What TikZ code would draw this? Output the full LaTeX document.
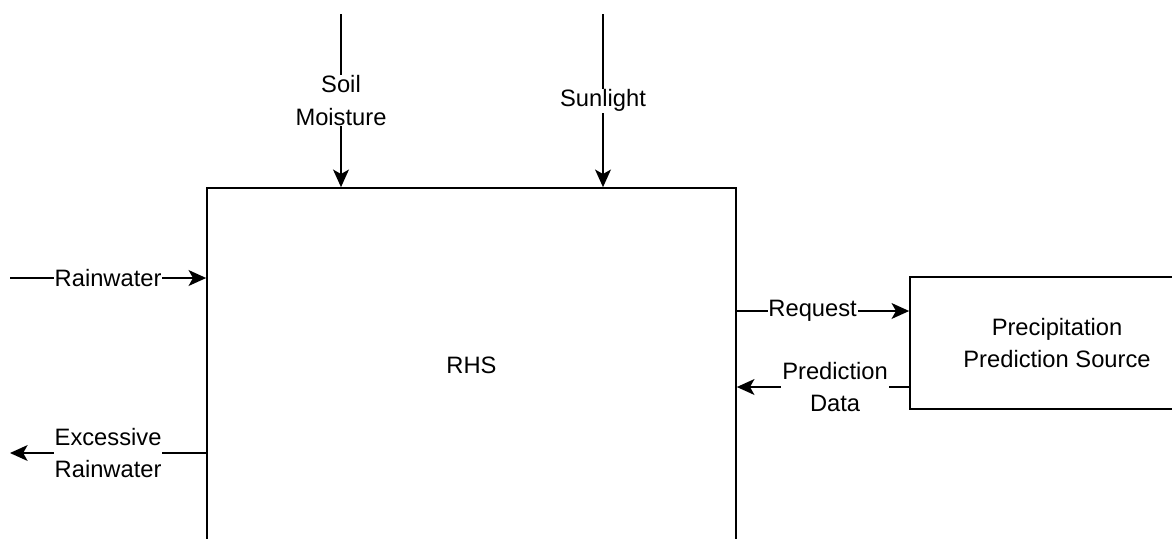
\documentclass[tikz,border=0pt]{standalone}
\usepackage{fontspec}
\setmainfont{Liberation Sans}
\usetikzlibrary{positioning}
\usetikzlibrary{arrows.meta}

\tikzset{
  block/.style={draw, line width=1pt, align=center, inner sep=0pt},
  flow/.style={line width=1pt, -{Stealth[length=10pt, width=9pt, inset=2.5pt]}},
  flowlabel/.style={fill=white, align=center, inner sep=0.5pt,
    font=\fontsize{13.5}{18.5}\selectfont}
}

\begin{document}
\begin{tikzpicture}[x=0.02cm, y=-0.02cm, font=\fontsize{13.5}{18.5}\selectfont]

\useasboundingbox (0,0) rectangle (1172,538);
\clip (0,0) rectangle (1172,538);

% boxes
\node[block, minimum width=10.58cm, minimum height=7.08cm] (rhs) at (471.5,365) {RHS};
\node[block, minimum width=5.88cm, minimum height=2.64cm] (pps) at (1057,343) {Precipitation\\Prediction Source};

% free ends
\coordinate (soil) at (341,14);
\coordinate (sun) at (603,14);
\coordinate (rain) at (10,278);
\coordinate (excess) at (10,453);
\coordinate (req) at (0,311);
\coordinate (pred) at (0,387);

% inputs from above
\draw[flow] (soil) -- node[flowlabel] {Soil\\Moisture} (soil |- rhs.north);
\draw[flow] (sun) -- node[flowlabel] {Sunlight} (sun |- rhs.north);

% left side
\draw[flow] (rain) -- node[flowlabel] {Rainwater} (rain -| rhs.west);
\draw[flow] (excess -| rhs.west) -- node[flowlabel] {Excessive\\Rainwater} (excess);

% right side
\draw[flow] (req -| rhs.east) -- node[flowlabel, pos=0.44] {Request} (req -| pps.west);
\draw[flow] (pred -| pps.west) -- node[flowlabel, pos=0.43] {Prediction\\Data} (pred -| rhs.east);

\end{tikzpicture}
\end{document}
